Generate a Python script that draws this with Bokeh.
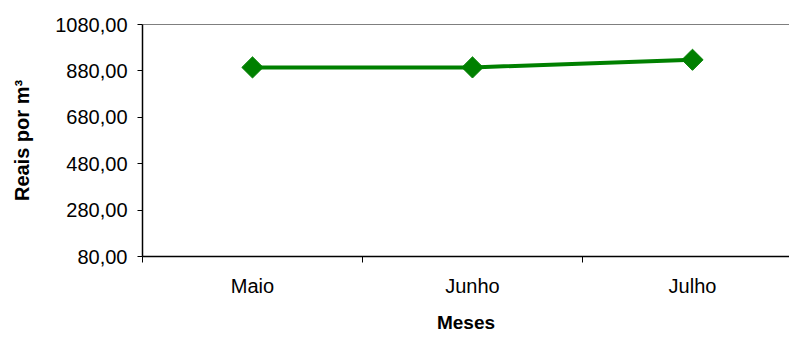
from math import pi

from bokeh.embed import file_html
from bokeh.models import ColumnDataSource, FixedTicker, Range1d, Span
from bokeh.plotting import figure
from bokeh.resources import INLINE

# Monthly price per cubic metre
months = ["Maio", "Junho", "Julho"]
prices = [895.0, 895.0, 928.0]

# Value axis ticks and their labels
y_ticks = [80, 280, 480, 680, 880, 1080]
y_tick_labels = ["80,00", "280,00", "480,00", "680,00", "880,00", "1080,00"]

FONT = "Liberation Sans"

# categories sit in the middle of their slots; slot boundaries get tick marks
x_pos = [i + 0.5 for i in range(len(months))]
source = ColumnDataSource(dict(x=x_pos, y=prices))

p = figure(
    width=789,
    height=337,
    output_backend="svg",
    toolbar_location=None,
    x_range=Range1d(0, 2.941),
    y_range=Range1d(80, 1080),
    min_border_left=142,
    min_border_right=0,
    min_border_top=24,
    min_border_bottom=81,
)
p.outline_line_color = None
p.grid.visible = False
p.background_fill_color = "white"
p.border_fill_color = "white"

# top edge of the plotting area
p.add_layout(Span(location=1080, dimension="width", line_color="black", line_width=1))

p.line("x", "y", source=source, line_color="#008000", line_width=4)
p.scatter("x", "y", source=source, marker="square", angle=pi / 4, size=15,
          fill_color="#008000", line_color="#008000")

# x axis: month names centred, boundary ticks as minor ticks
xa = p.xaxis[0]
xa.ticker = FixedTicker(ticks=x_pos, minor_ticks=[0, 1, 2, 3])
xa.major_label_overrides = {x: m for x, m in zip(x_pos, months)}
xa.major_tick_out = 0
xa.major_tick_in = 0
xa.minor_tick_out = 6
xa.minor_tick_in = 0
xa.minor_tick_line_color = "black"
xa.axis_line_color = "black"
xa.axis_line_width = 1.5
xa.major_label_text_font = FONT
xa.major_label_text_font_size = "20px"
xa.major_label_text_color = "black"
xa.major_label_standoff = 12
xa.axis_label = "Meses"
xa.axis_label_text_font = FONT
xa.axis_label_text_font_style = "bold"
xa.axis_label_text_font_size = "19px"
xa.axis_label_text_color = "black"
xa.axis_label_standoff = 12

# y axis
ya = p.yaxis[0]
ya.ticker = FixedTicker(ticks=y_ticks, minor_ticks=[])
ya.major_label_overrides = {t: l for t, l in zip(y_ticks, y_tick_labels)}
ya.major_tick_out = 5
ya.major_tick_in = 0
ya.major_tick_line_color = "black"
ya.axis_line_color = "black"
ya.axis_line_width = 1.5
ya.major_label_text_font = FONT
ya.major_label_text_font_size = "20px"
ya.major_label_text_color = "black"
ya.major_label_standoff = 10
ya.axis_label = "Reais por m³"
ya.axis_label_text_font = FONT
ya.axis_label_text_font_style = "bold"
ya.axis_label_text_font_size = "20px"
ya.axis_label_text_color = "black"
ya.axis_label_standoff = 19

open("out.html", "w").write(file_html(p, INLINE))
